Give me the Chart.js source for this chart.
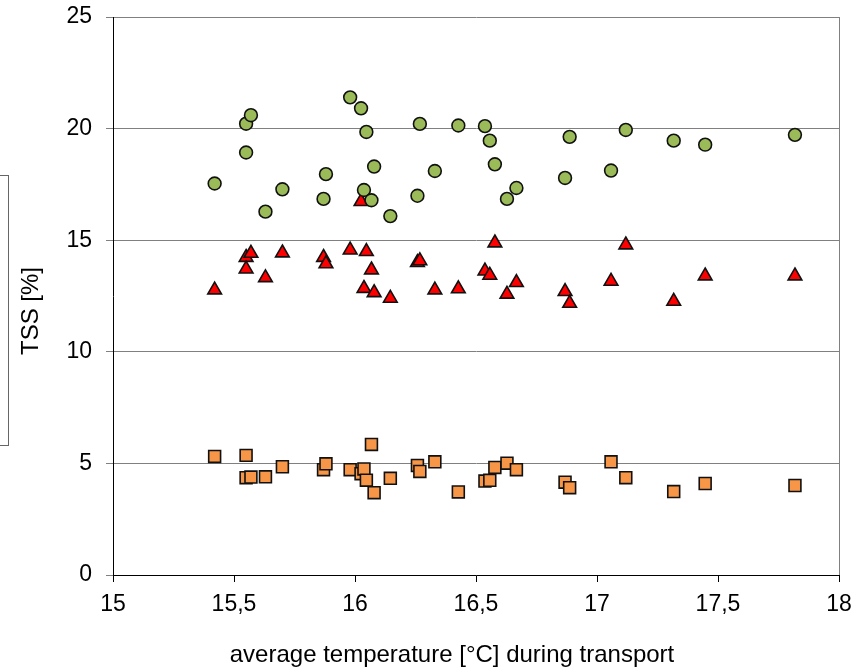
<!DOCTYPE html>
<html>
<head>
<meta charset="utf-8">
<title>TSS vs transport temperature</title>
<script src="https://cdn.jsdelivr.net/npm/chart.js@4"></script>
<style>
  html, body { margin: 0; padding: 0; background: #fff; }
  #wrap { position: relative; width: 858px; height: 667px; overflow: hidden; }
  /* legend frame, mostly off the left edge */
  #legend-box { position: absolute; left: -60px; top: 175px; width: 67px; height: 269px; border: 1px solid #666; }
</style>
</head>
<body>
<div id="wrap">
  <canvas id="tss-chart" width="858" height="667"></canvas>
  <div id="legend-box"></div>
</div>
<script>
// ========================================
// TSS against average transport temperature
// ========================================

const temps = [15.42, 15.55, 15.55, 15.57, 15.63, 15.70, 15.87, 15.88, 15.98, 16.025,
    16.037, 16.047, 16.068, 16.079, 16.146, 16.258, 16.268, 16.33, 16.427, 16.537,
    16.557, 16.578, 16.628, 16.667, 16.868, 16.887, 17.058, 17.119, 17.317, 17.447, 17.818];

const tssHigh = [17.54, 20.22, 18.93, 20.60, 16.28, 17.28, 16.85, 17.96, 21.40, 20.91,
    17.25, 19.85, 16.79, 18.30, 16.08, 16.99, 20.21, 18.10, 20.14, 20.11,
    19.46, 18.40, 16.85, 17.34, 17.79, 19.63, 18.12, 19.94, 19.46, 19.28, 19.72];

const tssMid = [12.77, 14.23, 13.71, 14.41, 13.32, 14.43, 14.23, 13.94, 14.56, 16.73,
    12.84, 14.49, 13.67, 12.65, 12.40, 14.00, 14.08, 12.77, 12.82, 13.62,
    13.43, 14.88, 12.58, 13.10, 12.70, 12.17, 13.16, 14.79, 12.26, 13.40, 13.40];

const tssLow = [5.31, 5.36, 4.36, 4.39, 4.40, 4.85, 4.72, 4.98, 4.72, 4.54,
    4.75, 4.25, 5.85, 3.69, 4.33, 4.91, 4.64, 5.07, 3.72, 4.21,
    4.24, 4.82, 5.01, 4.72, 4.16, 3.91, 5.07, 4.36, 3.74, 4.10, 4.01];

const xTicks = [15, 15.5, 16, 16.5, 17, 17.5, 18];
const xTickLabels = ['15', '15,5', '16', '16,5', '17', '17,5', '18'];
const yTicks = [0, 5, 10, 15, 20, 25];
const yTickLabels = ['0', '5', '10', '15', '20', '25'];

const xTitle = 'average temperature [°C] during transport';
const yTitle = 'TSS [%]';

const FONT = '"Liberation Sans", Arial, sans-serif';

const toPoints = ys => ys.map((y, i) => ({ x: temps[i], y }));

// axis captions and the grey right-hand frame line
const frame = {
    id: 'frame',
    afterDraw(chart) {
        const { ctx, chartArea } = chart;
        ctx.save();
        ctx.strokeStyle = '#808080';
        ctx.lineWidth = 1;
        ctx.beginPath();
        ctx.moveTo(Math.round(chartArea.right) + 0.5, chartArea.top);
        ctx.lineTo(Math.round(chartArea.right) + 0.5, chartArea.bottom);
        ctx.stroke();

        ctx.fillStyle = '#000';
        ctx.font = `24px ${FONT}`;
        ctx.textAlign = 'center';
        ctx.textBaseline = 'middle';
        ctx.fillText(xTitle, 452, 655);
        ctx.translate(31, 311);
        ctx.rotate(-Math.PI / 2);
        ctx.fillText(yTitle, 0, 0);
        ctx.restore();
    }
};

new Chart(document.getElementById('tss-chart'), {
    type: 'scatter',
    data: {
        datasets: [
            {
                label: 'high', data: toPoints(tssHigh), order: 0,
                pointStyle: 'circle', pointRadius: 6.4, pointHoverRadius: 6.4,
                backgroundColor: '#9BBB59', borderColor: '#111', borderWidth: 1.6
            },
            {
                label: 'mid', data: toPoints(tssMid), order: 1,
                pointStyle: 'triangle', pointRadius: 7.9, pointHoverRadius: 7.9,
                backgroundColor: '#FF0000', borderColor: '#111', borderWidth: 1.6
            },
            {
                label: 'low', data: toPoints(tssLow), order: 2,
                pointStyle: 'rect', pointRadius: 8.4, pointHoverRadius: 8.4,
                backgroundColor: '#F79646', borderColor: '#111', borderWidth: 1.6
            }
        ]
    },
    options: {
        responsive: false,
        animation: false,
        layout: { padding: { top: 17, right: 19, left: 0, bottom: 0 } },
        plugins: { legend: { display: false }, tooltip: { enabled: false } },
        scales: {
            x: {
                type: 'linear', min: 15, max: 18,
                afterBuildTicks: s => { s.ticks = xTicks.map(v => ({ value: v })); },
                afterFit: s => { s.height = 92; s.paddingLeft = 0; s.paddingRight = 0; },
                ticks: {
                    color: '#000', font: { family: FONT, size: 23 }, padding: 9,
                    maxRotation: 0, autoSkip: false,
                    callback: v => xTickLabels[xTicks.indexOf(v)]
                },
                grid: { drawOnChartArea: false, drawTicks: true, tickLength: 7, tickColor: '#000' },
                border: { color: '#000', width: 1 }
            },
            y: {
                type: 'linear', min: 0, max: 25,
                afterBuildTicks: s => { s.ticks = yTicks.map(v => ({ value: v })); },
                afterFit: s => { s.width = 113; s.paddingTop = 0; s.paddingBottom = 0; },
                ticks: {
                    color: '#000', font: { family: FONT, size: 23 }, padding: 14,
                    callback: v => yTickLabels[yTicks.indexOf(v)]
                },
                grid: { color: '#808080', lineWidth: 1, tickLength: 7, tickColor: '#808080' },
                border: { color: '#000', width: 1 }
            }
        }
    },
    plugins: [frame]
});
</script>
</body>
</html>
